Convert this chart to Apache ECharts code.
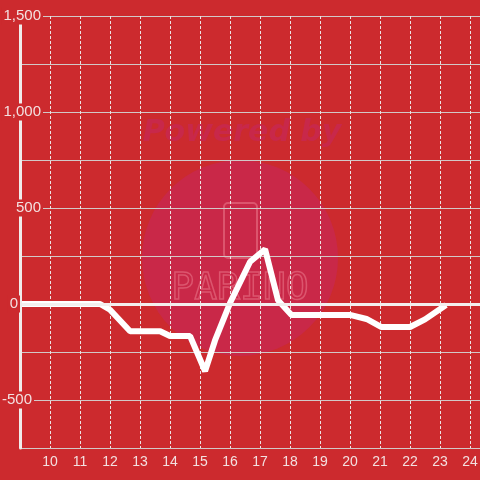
<!DOCTYPE html>
<html>
<head>
<meta charset="utf-8">
<script src="https://cdn.jsdelivr.net/npm/echarts@6/dist/echarts.min.js"></script>
<style>html,body{margin:0;padding:0;background:#cc2a2e}#c{width:480px;height:480px}</style>
</head>
<body>
<div id="c"></div>
<script>
// Data
var hours  = [9, 11.67, 12.0, 12.67, 13.67, 14.0, 14.67, 15.17, 15.5, 16.0, 16.67, 17.17, 17.6, 18.05, 20.0, 20.55, 21.05, 22.0, 22.5, 23.2];
var values = [0, 0, -30, -142, -142, -167, -167, -350, -190, 5, 220, 285, 20, -57, -57, -78, -120, -120, -80, -5];
var xTicks = [10, 11, 12, 13, 14, 15, 16, 17, 18, 19, 20, 21, 22, 23, 24];
var yTickLabels = { '1500': '1,500', '1000': '1,000', '500': '500', '0': '0', '-500': '-500' };

var BG = '#cc2a2e';
var LABEL = '#f3e0e0';
var chart = echarts.init(document.getElementById('c'), null, { renderer: 'canvas' });

var points = hours.map(function (h, i) { return [h, values[i]]; });

function yFmt(v) {
  var key = String(v);
  if (!(key in yTickLabels)) return '';
  if (v === 0) return '{a|0}{s0| }';
  if (v < 0) return '{a|' + yTickLabels[key] + '}{s1| }';
  return '{a|' + yTickLabels[key] + '}';
}

chart.setOption({
  backgroundColor: BG,
  animation: false,
  graphic: [
    { type: 'circle', z: -10, shape: { cx: 240, cy: 258, r: 98 }, style: { fill: '#c92848' } },
    { type: 'text', z: -10, x: 242, y: 133, style: { text: 'Powered by', fill: '#c8284a', fontFamily: 'DejaVu Sans', fontSize: 30, fontWeight: 'bold', fontStyle: 'italic', align: 'center', verticalAlign: 'middle' } },
    { type: 'rect', z: -9, shape: { x: 224, y: 203, width: 33, height: 55, r: 4 }, style: { fill: 'none', stroke: 'rgba(255,170,180,0.35)', lineWidth: 2 } },
    { type: 'text', z: -9, x: 240, y: 289, style: { text: 'PARINO', fill: 'none', stroke: 'rgba(255,170,180,0.35)', lineWidth: 1.5, fontFamily: 'DejaVu Sans Mono', fontSize: 38, align: 'center', verticalAlign: 'middle' } }
  ],
  grid: { left: 20, right: 0, top: 16, bottom: 32, containLabel: false, outerBoundsMode: 'none' },
  xAxis: {
    type: 'value', min: 9, max: 24.333, interval: 1,
    axisLine: { show: false }, axisTick: { show: false },
    axisLabel: {
      color: LABEL, fontSize: 14, margin: 7, fontFamily: 'Liberation Sans',
      showMinLabel: false, showMaxLabel: false,
      formatter: function (v) { return (Math.abs(v - Math.round(v)) < 1e-6 && xTicks.indexOf(Math.round(v)) >= 0) ? String(Math.round(v)) : ''; }
    },
    splitLine: { show: true, lineStyle: { color: '#ece4e4', width: 1, type: [3, 2] } }
  },
  yAxis: [
    {
      type: 'value', min: -750, max: 1500, interval: 250,
      axisLine: { show: false }, axisTick: { show: false }, axisLabel: { show: false },
      splitLine: { show: true, lineStyle: { color: '#d2c8c8', width: 1 } }
    },
    {
      type: 'value', min: -750, max: 1500, interval: 250, position: 'left', z: 5,
      axisLine: { show: true, onZero: false, lineStyle: { color: '#f0ecec', width: 3 } },
      axisTick: { show: false }, splitLine: { show: false },
      axisLabel: {
        inside: true, align: 'right', margin: 23, verticalAlign: 'middle',
        formatter: yFmt,
        rich: {
          a: { color: LABEL, fontSize: 15, fontFamily: 'Liberation Sans', backgroundColor: BG, padding: [1, 2, 1, 2] },
          s0: { width: 23, fontSize: 15 },
          s1: { width: 9, fontSize: 15 }
        }
      }
    }
  ],
  series: [{
    type: 'line', data: points, yAxisIndex: 0, showSymbol: false, symbol: 'none',
    lineStyle: { color: '#ffffff', width: 6 },
    markLine: {
      silent: true, symbol: 'none', label: { show: false },
      lineStyle: { color: '#f3eeee', width: 3, type: 'solid' },
      data: [{ yAxis: 0 }]
    }
  }]
});
</script>
</body>
</html>
